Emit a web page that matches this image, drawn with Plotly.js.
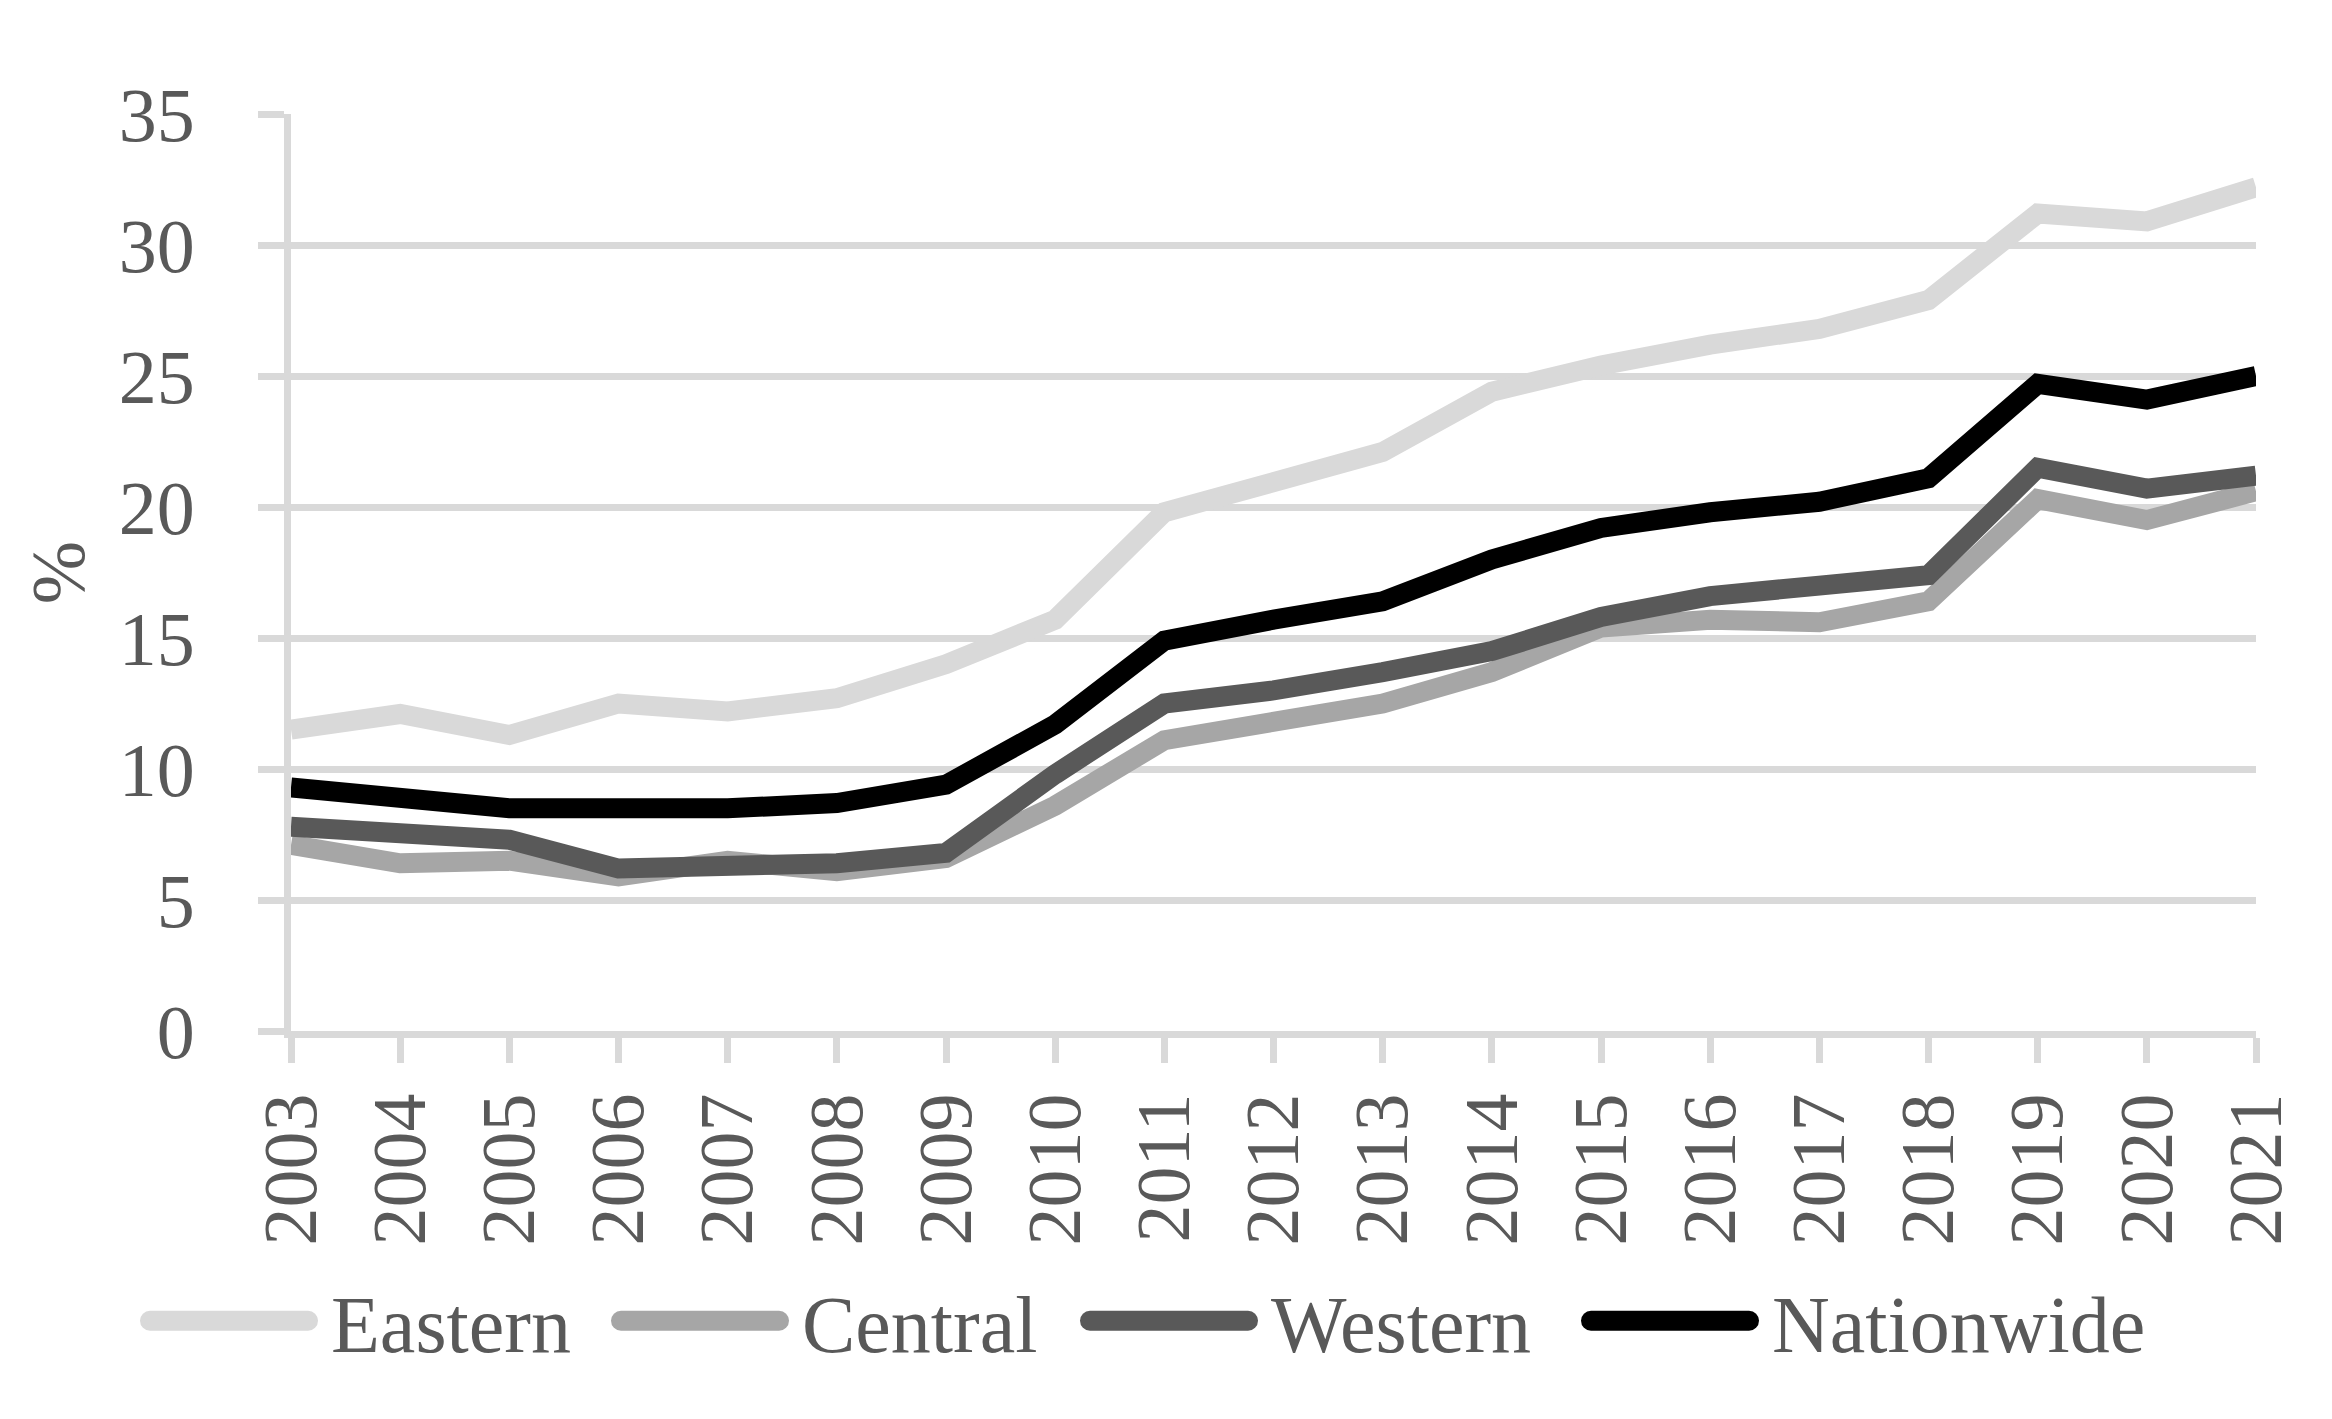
<!DOCTYPE html>
<html>
<head>
<meta charset="utf-8">
<script src="https://cdn.plot.ly/plotly-3.0.1.min.js"></script>
<style>
html,body{margin:0;padding:0;background:#fff;}
#chart{width:2332px;height:1419px;}
</style>
</head>
<body>
<div id="chart"></div>
<script>
var years = [2003,2004,2005,2006,2007,2008,2009,2010,2011,2012,2013,2014,2015,2016,2017,2018,2019,2020,2021];
var eastern = [11.5,12.1,11.3,12.5,12.2,12.7,14.0,15.7,19.8,21.0,22.1,24.4,25.4,26.2,26.8,27.9,31.2,30.9,32.2];
var central = [7.1,6.4,6.5,5.9,6.5,6.1,6.6,8.6,11.1,11.8,12.5,13.7,15.4,15.7,15.6,16.4,20.3,19.5,20.6];
var western = [7.8,7.5,7.3,6.2,6.3,6.4,6.8,9.8,12.5,13.0,13.7,14.5,15.8,16.6,17.0,17.4,21.5,20.7,21.2];
var nationwide = [9.3,8.9,8.5,8.5,8.5,8.7,9.4,11.7,14.9,15.7,16.4,18.0,19.2,19.8,20.2,21.1,24.7,24.1,25.0];
var yTicks = [0,5,10,15,20,25,30,35];
var seriesNames = ['Eastern','Central','Western','Nationwide'];
var seriesValues = [eastern, central, western, nationwide];
var seriesColors = ['#d9d9d9','#a6a6a6','#595959','#000000'];

var FONT = '"Liberation Serif", "Times New Roman", serif';
var legendIds = ['legend','legend2','legend3','legend4'];
var legendStartPx = [146, 617, 1086, 1587];
var traces = seriesNames.map(function(n, i){
  return {x: years, y: seriesValues[i], name: n, type: 'scatter', mode: 'lines',
          legend: legendIds[i], line: {color: seriesColors[i], width: 20}};
});

var layout = {
  width: 2332, height: 1419,
  margin: {l: 291, r: 76, t: 114, b: 388, autoexpand: false},
  paper_bgcolor: '#fff', plot_bgcolor: '#fff',
  font: {family: FONT, color: '#595959', size: 76},
  showlegend: true,
  xaxis: {range: [2003, 2021], tickmode: 'array', tickvals: years, ticktext: years.map(String),
          tickangle: -90, ticks: 'outside', ticklen: 25, tickwidth: 7, tickcolor: '#d9d9d9',
          showgrid: false, showline: true, linecolor: '#d9d9d9', linewidth: 7, zeroline: false,
          tickfont: {family: FONT, size: 76, color: '#595959'}, fixedrange: true},
  yaxis: {range: [0, 35], tickvals: yTicks, ticks: 'outside', ticklen: 26, tickwidth: 7,
          tickcolor: '#d9d9d9', showgrid: true, gridcolor: '#d9d9d9', gridwidth: 7,
          showline: true, linecolor: '#d9d9d9', linewidth: 7, zeroline: false,
          tickfont: {family: FONT, size: 76, color: '#595959'}, ticklabelstandoff: 48,
          title: {text: '%', font: {family: FONT, size: 76, color: '#595959'}, standoff: 12}, fixedrange: true}
};
legendIds.forEach(function(id, i){
  layout[id] = {orientation: 'h', x: (legendStartPx[i] - 11 - 291) / 1965, xanchor: 'left',
                y: -0.316, yanchor: 'middle', bgcolor: 'rgba(0,0,0,0)',
                font: {family: FONT, size: 80, color: '#595959'}, itemwidth: 186};
});
Plotly.newPlot('chart', traces, layout, {displayModeBar: false, staticPlot: true}).then(function(gd){
  var paths = gd.querySelectorAll('.legendlines path');
  paths.forEach(function(p){
    var d = p.getAttribute('d') || '';
    var m = d.match(/M([\d.\-]+),([\d.\-]+)h([\d.\-]+)/);
    if (m) {
      var x0 = parseFloat(m[1]), y0 = parseFloat(m[2]), len = parseFloat(m[3]);
      p.setAttribute('d', 'M' + (x0 + 10) + ',' + y0 + 'h' + (len - 28));
    }
    p.style.strokeWidth = '20px';
    p.style.strokeLinecap = 'round';
  });
});
</script>
</body>
</html>
